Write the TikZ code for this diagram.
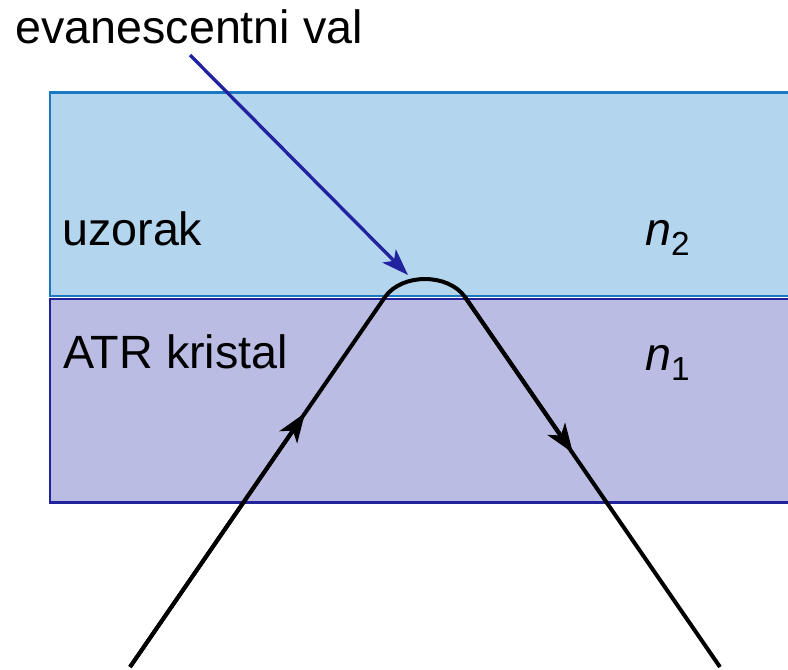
\documentclass[tikz,border=0pt]{standalone}
\usepackage{fontspec}
\setmainfont{Liberation Sans}
\usetikzlibrary{arrows.meta}
\definecolor{sampfill}{HTML}{B3D5EE}
\definecolor{sampline}{HTML}{1A78C0}
\definecolor{crysfill}{HTML}{BABCE3}
\definecolor{crysline}{HTML}{22229C}
\definecolor{ptrblue}{HTML}{2222A0}
\begin{document}
\begin{tikzpicture}[x=0.75pt,y=-0.75pt,
  lbl/.style={anchor=base west,inner sep=0pt,font=\fontsize{35}{42}\selectfont},
  layer/.style={line width=2.2pt},
  ray/.style={line width=3pt,black},
  mid/.style={ray,-{Stealth[length=22pt,width=16pt,inset=6pt]}},
  ptr/.style={line width=2.5pt,ptrblue,-{Stealth[length=20pt,width=14pt,inset=5pt]}}]
\useasboundingbox (0,0) rectangle (788,669);
\clip (0,0) rectangle (788,669);
% layers
\draw[layer,draw=sampline,fill=sampfill] (50,92.5) rectangle (800,296);
\draw[layer,draw=crysline,fill=crysfill] (50,299) rectangle (800,502.5);
% labels
\node[lbl] (top) at (15,43) {evanescentni val};
\node[lbl] (samp) at (62,245) {uzorak};
\node[lbl] (crys) at (63,368) {ATR kristal};
\node[lbl] (n2) at (645,245) {\textit{n}\raisebox{-8pt}{\fontsize{25}{30}\selectfont 2}};
\node[lbl] (n1) at (645,370) {\textit{n}\raisebox{-8pt}{\fontsize{25}{30}\selectfont 1}};
% ray
\coordinate (inS) at (130,667);
\coordinate (inE) at (385,297);
\coordinate (outS) at (465,297);
\coordinate (outE) at (720,667);
\coordinate (tipL) at (305,413);
\coordinate (tipR) at (573,453);
\draw[ray,line join=round] (inS) -- (inE) .. controls (402,273) and (448,273) .. (outS) -- (outE);
\draw[mid] (inS) -- (tipL);
\draw[mid] (outS) -- (tipR);
% pointer
\coordinate (ptrS) at (190,55);
\coordinate (ptrE) at (408,275);
\draw[ptr] (ptrS) -- (ptrE);
\end{tikzpicture}
\end{document}
